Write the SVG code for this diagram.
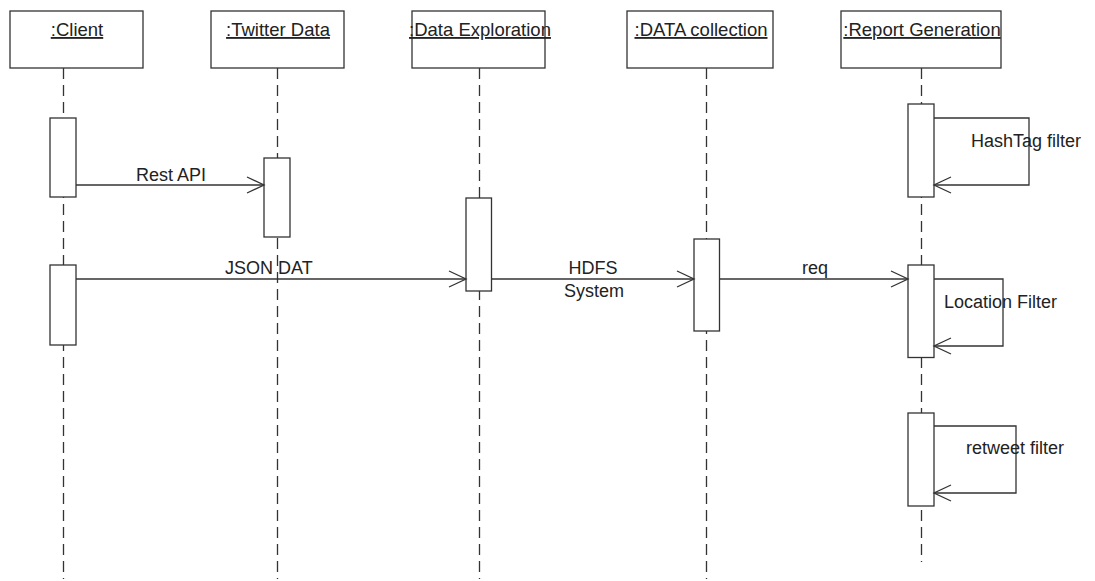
<svg xmlns="http://www.w3.org/2000/svg" width="1095" height="581" viewBox="0 0 1095 581">
<style>
.box{fill:#fff;stroke:#333;stroke-width:1.3}
.life{stroke:#333;stroke-width:1.3;stroke-dasharray:11,6;fill:none}
.act{fill:#fff;stroke:#333;stroke-width:1.3}
.msg{stroke:#333;stroke-width:1.3;fill:none}
.title{font-family:"Liberation Sans",Arial,sans-serif;font-size:18.5px;fill:#222;text-anchor:middle;text-decoration:underline}
.lbl{font-family:"Liberation Sans",Arial,sans-serif;font-size:18px;fill:#222}
</style>
<defs>
<marker id="open" markerWidth="20" markerHeight="20" refX="18" refY="9" orient="auto" markerUnits="userSpaceOnUse">
<path d="M1,1 L18,9 L1,17" fill="none" stroke="#333" stroke-width="1.3"/>
</marker>
</defs>
<rect width="1095" height="581" fill="#fff"/>
<g id="lifelines">
<line class="life" x1="63.5" y1="68" x2="63.5" y2="579"/>
<line class="life" x1="277.5" y1="68" x2="277.5" y2="579"/>
<line class="life" x1="479.5" y1="68" x2="479.5" y2="579"/>
<line class="life" x1="706.5" y1="68" x2="706.5" y2="579"/>
<line class="life" x1="921.5" y1="68" x2="921.5" y2="562"/>
</g>
<g id="client">
<rect class="box" x="10" y="11" width="133" height="57"/>
<text class="title" x="77" y="36">:Client</text>
<rect class="act" x="50" y="118" width="26" height="79"/>
<rect class="act" x="50" y="265" width="26" height="80"/>
</g>
<g id="twitter-data">
<rect class="box" x="211" y="11" width="133" height="57"/>
<text class="title" x="278" y="36">:Twitter Data</text>
<rect class="act" x="264" y="158" width="26" height="79"/>
</g>
<g id="data-exploration">
<rect class="box" x="412" y="11" width="133" height="57"/>
<text class="title" x="480" y="36">:Data Exploration</text>
<rect class="act" x="466" y="198" width="25.5" height="93"/>
</g>
<g id="data-collection">
<rect class="box" x="627" y="11" width="146" height="57"/>
<text class="title" x="701" y="36">:DATA collection</text>
<rect class="act" x="694" y="239" width="25.5" height="92"/>
</g>
<g id="report-generation">
<rect class="box" x="841" y="11" width="160" height="57"/>
<text class="title" x="922" y="36">:Report Generation</text>
<rect class="act" x="908" y="104" width="26" height="93"/>
<rect class="act" x="908" y="265" width="26" height="92.5"/>
<rect class="act" x="908" y="413" width="26" height="93"/>
</g>
<g id="connectors">
<line class="msg" x1="76" y1="185" x2="264" y2="185" marker-end="url(#open)"/>
<text class="lbl" x="136" y="181">Rest API</text>
<line class="msg" x1="76" y1="279" x2="466" y2="279" marker-end="url(#open)"/>
<text class="lbl" x="225" y="274">JSON DAT</text>
<line class="msg" x1="491.5" y1="279" x2="694" y2="279" marker-end="url(#open)"/>
<text class="lbl" x="593" y="274" text-anchor="middle">HDFS</text>
<text class="lbl" x="594" y="297" text-anchor="middle">System</text>
<line class="msg" x1="719.5" y1="279" x2="908" y2="279" marker-end="url(#open)"/>
<text class="lbl" x="802" y="274">req</text>
<path class="msg" d="M934,118 H1029 V185 H934" marker-end="url(#open)"/>
<text class="lbl" x="971" y="147">HashTag filter</text>
<path class="msg" d="M934,279 H1003 V346 H934" marker-end="url(#open)"/>
<text class="lbl" x="944" y="308">Location Filter</text>
<path class="msg" d="M934,426 H1016 V493 H934" marker-end="url(#open)"/>
<text class="lbl" x="966" y="454">retweet filter</text>
</g>
</svg>
